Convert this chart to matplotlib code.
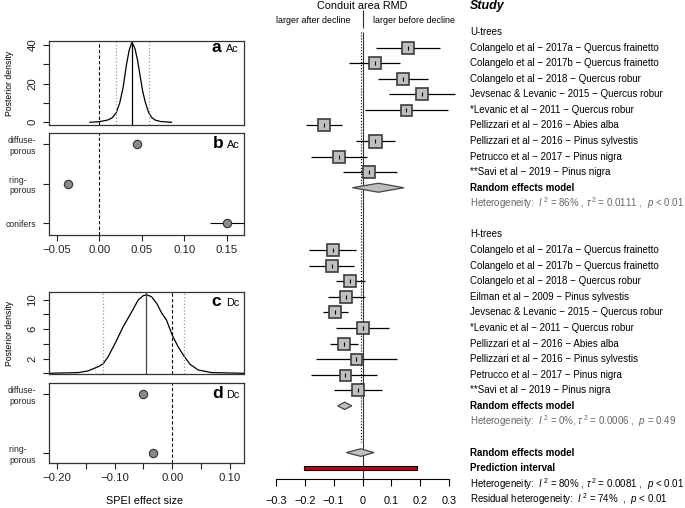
import matplotlib
matplotlib.use("Agg")
import matplotlib.pyplot as plt
from matplotlib.transforms import blended_transform_factory

plt.rcParams["font.family"] = ["Liberation Sans", "DejaVu Sans"]
plt.rcParams["mathtext.fontset"] = "custom"
plt.rcParams["mathtext.rm"] = "Liberation Sans"
plt.rcParams["mathtext.it"] = "Liberation Sans:italic"

W, H = 685, 508

# ── panel a: posterior density, Ac ─────────────────────────────
a_x = [-0.011, 0.000, 0.010, 0.015, 0.020, 0.024, 0.028, 0.032, 0.035, 0.038,
       0.040, 0.042, 0.045, 0.048, 0.051, 0.054, 0.058, 0.062, 0.066, 0.072, 0.085]
a_y = [0.0, 0.3, 1.2, 2.3, 5.0, 10.0, 18.0, 30.0, 37.0, 41.0,
       40.0, 38.0, 32.0, 24.0, 16.0, 10.5, 5.0, 2.3, 1.1, 0.4, 0.0]
a_mean, a_lo, a_hi = 0.0388, 0.0196, 0.0588

# ── panel b: wood types, Ac ─────────────────────────────────────
b_groups = ["diffuse-\nporous", "ring-    \nporous", "conifers"]
b_est = [0.044, -0.037, 0.150]
b_lo = [0.040, -0.040, 0.130]
b_hi = [0.048, -0.034, 0.175]

# ── panel c: posterior density, Dc ─────────────────────────────
c_x = [-0.214, -0.163, -0.146, -0.128, -0.120, -0.111, -0.099, -0.085, -0.070,
       -0.059, -0.050, -0.044, -0.036, -0.027, -0.018, -0.010, 0.000, 0.010,
       0.021, 0.031, 0.045, 0.068, 0.124]
c_y = [0.0, 0.09, 0.32, 0.91, 1.27, 2.27, 4.08, 6.35, 8.39,
       9.98, 10.57, 10.66, 10.43, 9.52, 8.16, 7.26, 5.2, 3.63,
       2.27, 1.22, 0.45, 0.09, 0.0]
c_mean, c_lo, c_hi = -0.0456, -0.1196, 0.0208

# ── panel d: wood types, Dc ─────────────────────────────────────
d_groups = ["diffuse-\nporous", "ring-    \nporous"]
d_est = [-0.050, -0.034]

# ── forest plot ─────────────────────────────────────────────────
u_labels = [
    "Colangelo et al − 2017a − Quercus frainetto",
    "Colangelo et al − 2017b − Quercus frainetto",
    "Colangelo et al − 2018 − Quercus robur",
    "Jevsenac & Levanic − 2015 − Quercus robur",
    "*Levanic et al − 2011 − Quercus robur",
    "Pellizzari et al − 2016 − Abies alba",
    "Pellizzari et al − 2016 − Pinus sylvestis",
    "Petrucco et al − 2017 − Pinus nigra",
    "**Savi et al − 2019 − Pinus nigra",
]
u_est = [0.157, 0.042, 0.141, 0.205, 0.150, -0.134, 0.044, -0.081, 0.024]
u_lo = [0.047, -0.048, 0.053, 0.092, 0.007, -0.196, -0.022, -0.178, -0.069]
u_hi = [0.269, 0.130, 0.228, 0.321, 0.295, -0.071, 0.111, 0.015, 0.119]
u_w = [12, 12, 12.5, 12, 11, 12.5, 13, 12, 12.5]
u_pool = (0.055, -0.035, 0.144)
u_het = r"Heterogeneity:  $I^{\,2}$ = 86% , $\tau^{\,2}$ = 0.0111 ,  $p$ < 0.01"

h_labels = [
    "Colangelo et al − 2017a − Quercus frainetto",
    "Colangelo et al − 2017b − Quercus frainetto",
    "Colangelo et al − 2018 − Quercus robur",
    "Eilman et al − 2009 − Pinus sylvestis",
    "Jevsenac & Levanic − 2015 − Quercus robur",
    "*Levanic et al − 2011 − Quercus robur",
    "Pellizzari et al − 2016 − Abies alba",
    "Pellizzari et al − 2016 − Pinus sylvestis",
    "Petrucco et al − 2017 − Pinus nigra",
    "**Savi et al − 2019 − Pinus nigra",
]
h_est = [-0.104, -0.106, -0.043, -0.056, -0.094, 0.001, -0.064, -0.022, -0.062, -0.017]
h_lo = [-0.184, -0.184, -0.091, -0.120, -0.138, -0.091, -0.114, -0.160, -0.178, -0.098]
h_hi = [-0.023, -0.028, 0.007, 0.009, -0.051, 0.092, -0.016, 0.119, 0.052, 0.067]
h_w = [11.5, 12, 12.5, 12.5, 12.5, 12, 12, 11, 11, 12]
h_pool = (-0.062, -0.086, -0.037)
h_het = r"Heterogeneity:  $I^{\,2}$ = 0%, $\tau^{\,2}$ = 0.0006 ,  $p$ = 0.49"

all_pool = (-0.006, -0.056, 0.040)
pred_int = (-0.204, 0.188)
all_het = r"Heterogeneity:  $I^{\,2}$ = 80% , $\tau^{\,2}$ = 0.0081 ,  $p$ < 0.01"
res_het = r"Residual heterogeneity:  $I^{\,2}$ = 74%  ,  $p$ < 0.01"

forest_ticks = [-0.3, -0.2, -0.1, 0.0, 0.1, 0.2, 0.3]
forest_ticklabels = ["−0.3", "−0.2", "−0.1", "0", "0.1", "0.2", "0.3"]


fig = plt.figure(figsize=(W / 100, H / 100), dpi=100)


def px_axes(x0, y0, x1, y1):
    return fig.add_axes([x0 / W, 1 - y1 / H, (x1 - x0) / W, (y1 - y0) / H])


def ftext(x, y, s, **kw):
    return fig.text(x / W, 1 - y / H, s, **kw)


def style_left(ax):
    for sp in ax.spines.values():
        sp.set_color("#333333")
        sp.set_linewidth(0.9)
    ax.tick_params(colors="#222222", width=0.8, length=4.3, labelsize=8.2)


# panel a
ax = px_axes(49, 41, 244, 125)
style_left(ax)
ax.plot(a_x, a_y, color="black", lw=0.9)
ax.axvline(0, color="black", lw=0.8, ls=(0, (3, 2)))
ax.axvline(a_lo, color="#9a9a9a", lw=0.9, ls=":")
ax.axvline(a_hi, color="#9a9a9a", lw=0.9, ls=":")
ax.axvline(a_mean, color="black", lw=0.9)
ax.set_xlim(-0.0592, 0.1702)
ax.set_ylim(-1.4, 42.0)
ax.set_yticks([0, 10, 20, 30, 40])
ax.set_yticklabels(["0", "", "20", "", "40"], rotation=90, va="center")
ax.tick_params(axis="y", pad=4)
ax.tick_params(axis="x", bottom=False, labelbottom=False)

# panel b
ax = px_axes(49, 133, 244, 235)
style_left(ax)
ypos = [3, 2, 1]
ax.axvline(0, color="black", lw=0.8, ls=(0, (3, 2)))
ax.hlines(ypos, b_lo, b_hi, color="black", lw=0.8)
ax.plot(b_est, ypos, "o", ms=6, mfc="#8a8a8a", mec="#333333", mew=0.8)
ax.set_xlim(-0.0592, 0.1702)
ax.set_ylim(0.704, 3.286)
ax.set_yticks(ypos)
ax.set_yticklabels(b_groups, fontsize=6.2, multialignment="right")
ax.tick_params(axis="y", pad=5)
ax.set_xticks([-0.05, 0.0, 0.05, 0.10, 0.15])
ax.set_xticklabels(["−0.05", "0.00", "0.05", "0.10", "0.15"])
ax.tick_params(axis="x", pad=3)

# panel c
ax = px_axes(49, 291.7, 244, 374.3)
style_left(ax)
ax.plot(c_x, c_y, color="black", lw=0.9)
ax.axvline(0, color="black", lw=0.8, ls=(0, (3, 2)))
ax.axvline(c_lo, color="#9a9a9a", lw=0.9, ls=":")
ax.axvline(c_hi, color="#9a9a9a", lw=0.9, ls=":")
ax.axvline(c_mean, color="#444444", lw=0.9)
ax.set_xlim(-0.2137, 0.1245)
ax.set_ylim(-0.14, 11.1)
ax.set_yticks([0, 2, 4, 6, 8, 10])
ax.set_yticklabels(["", "2", "", "6", "", "10"], rotation=90, va="center")
ax.tick_params(axis="y", pad=4)
ax.tick_params(axis="x", bottom=False, labelbottom=False)

# panel d
ax = px_axes(49, 382.7, 244, 463.3)
style_left(ax)
ypos = [2, 1]
ax.axvline(0, color="black", lw=0.8, ls=(0, (3, 2)))
ax.plot(d_est, ypos, "o", ms=6, mfc="#8a8a8a", mec="#333333", mew=0.8)
ax.set_xlim(-0.2137, 0.1245)
ax.set_ylim(0.83, 2.197)
ax.set_yticks(ypos)
ax.set_yticklabels(d_groups, fontsize=6.2, multialignment="right")
ax.tick_params(axis="y", pad=5)
ax.set_xticks([-0.20, -0.15, -0.10, -0.05, 0.0, 0.05, 0.10])
ax.set_xticklabels(["−0.20", "", "−0.10", "", "0.00", "", "0.10"])
ax.tick_params(axis="x", pad=3)

# left panel annotations
for x, y, big, small in [(211.7, 52.5, "a", "Ac"), (213, 148, "b", "Ac"),
                         (211.7, 305.5, "c", "Dc"), (212.5, 398, "d", "Dc")]:
    ftext(x, y, big, fontsize=12.5, fontweight="bold", va="baseline")
    ftext(x + 14, y, small, fontsize=7.8, va="baseline")
ftext(10, 83, "Posterior density", fontsize=6.2, rotation=90, ha="center", va="center")
ftext(10, 333, "Posterior density", fontsize=6.2, rotation=90, ha="center", va="center")
ftext(145, 501, "SPEI effect size", fontsize=7.8, ha="center", va="center")

# ── forest axes: y data equals figure pixel row ─────────────────
AX_LINE = 479
fx = fig.add_axes([276 / W, 1 - AX_LINE / H, 173 / W, AX_LINE / H])
fx.patch.set_visible(False)
fx.set_xlim(-0.3, 0.3)
fx.set_ylim(AX_LINE, 0)
for k in ("top", "left", "right"):
    fx.spines[k].set_visible(False)
fx.spines["bottom"].set_linewidth(0.8)
fx.set_yticks([])
fx.set_xticks(forest_ticks)
fx.set_xticklabels(forest_ticklabels)
fx.tick_params(axis="x", length=5.3, width=0.8, pad=7, labelsize=7.8)

ROW0, STEP = 47.5, 15.58


def row(r):
    return ROW0 + STEP * r


tt = blended_transform_factory(fig.transFigure, fx.transData)
TX = 470 / W


def label(r, s, **kw):
    fx.text(TX, row(r), s, transform=tt, fontsize=7, va="center", ha="left", **kw)


def study_rows(first, est, lo, hi, w):
    ys = [row(first + i) for i in range(len(est))]
    fx.hlines(ys, lo, hi, color="black", lw=0.9, clip_on=False, zorder=2)
    for e, y, s in zip(est, ys, w):
        fx.plot(e, y, marker="s", ms=s * 0.72, mfc="#bfbfbf", mec="#3c3c3c",
                mew=1.2, clip_on=False, zorder=3)
    fx.plot(est, ys, ls="none", marker="|", ms=3, color="black", mew=0.8,
            clip_on=False, zorder=4)


def diamond(r, est, lo, hi, half=4.0):
    y = row(r)
    fx.fill([lo, est, hi, est], [y, y - half, y, y + half], facecolor="#bfbfbf",
            edgecolor="#444444", lw=0.9, clip_on=False, zorder=3)


# reference lines
fx.vlines(0, 32, AX_LINE, color="#333333", lw=0.8, zorder=1)
fx.vlines(all_pool[0], 32, 442, color="black", lw=0.8, ls=":", zorder=1)
fx.vlines(0, 10, 28, color="#333333", lw=0.8, clip_on=False)
fx.text(0, 6, "Conduit area RMD", fontsize=7.8, ha="center", va="center")
fx.text(-0.04, 20.5, "larger after decline", fontsize=6.4, ha="right", va="center")
fx.text(0.038, 20.5, "larger before decline", fontsize=6.4, ha="left", va="center")

fx.text(TX, 6, "Study", transform=tt, fontsize=9, fontweight="bold",
        fontstyle="italic", va="center", ha="left")

label(-1, "U-trees")
for i, s in enumerate(u_labels):
    label(i, s)
study_rows(0, u_est, u_lo, u_hi, u_w)
label(9, "Random effects model", fontweight="bold")
diamond(9, *u_pool, half=4.5)
label(10, u_het, color="#666666")

label(12, "H-trees")
for i, s in enumerate(h_labels):
    label(13 + i, s)
study_rows(13, h_est, h_lo, h_hi, h_w)
label(23, "Random effects model", fontweight="bold")
diamond(23, *h_pool, half=3.7)
label(24, h_het, color="#666666")

label(26, "Random effects model", fontweight="bold")
diamond(26, *all_pool, half=3.8)
label(27, "Prediction interval", fontweight="bold")
fx.barh(row(27), pred_int[1] - pred_int[0], left=pred_int[0], height=3.6,
        color="#cc0000", edgecolor="black", lw=0.8, clip_on=False, zorder=3)
label(28, all_het)
label(29, res_het)

fig.savefig("out.png", dpi=100)
